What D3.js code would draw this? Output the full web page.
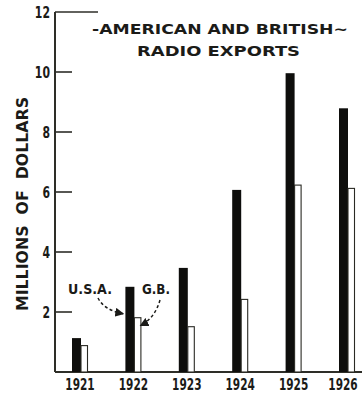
<!DOCTYPE html>
<html>
<head>
<meta charset="utf-8">
<script src="https://cdn.jsdelivr.net/npm/d3@7/dist/d3.min.js"></script>
<style>
  html, body { margin: 0; padding: 0; background: #fff; }
  svg { display: block; }
  text { font-family: "DejaVu Sans", "Liberation Sans", sans-serif; font-weight: bold; fill: #1b1b18; }
</style>
</head>
<body>
<svg id="chart" width="363" height="394"></svg>
<script>
// Radio exports, millions of dollars
const years = ["1921", "1922", "1923", "1924", "1925", "1926"];
const usaValues = [1.13, 2.84, 3.47, 6.07, 9.96, 8.79];
const gbValues = [0.88, 1.81, 1.51, 2.42, 6.23, 6.12];
const yTicks = [2, 4, 6, 8, 10, 12];
const titleLines = ["-AMERICAN AND BRITISH~", "RADIO EXPORTS"];
const yTitle = "MILLIONS  OF  DOLLARS";
const seriesNames = ["U.S.A.", "G.B."];

const svg = d3.select("#chart");
const ink = "#1b1b18";
const axisInk = "#2e2e28";

const y = d3.scaleLinear().domain([0, 12]).range([372, 12]);
const x = d3.scalePoint().domain(years).range([81, 348]);

const axisX = 55;
const usaWidth = 9;
const gbWidth = 6.5;

// vertical axis with inward ticks
svg.append("line")
  .attr("x1", axisX).attr("x2", axisX)
  .attr("y1", y(12)).attr("y2", y(0))
  .attr("stroke", axisInk).attr("stroke-width", 2);

svg.selectAll("line.tick").data(yTicks).join("line")
  .attr("class", "tick")
  .attr("x1", axisX)
  .attr("x2", d => d === 12 ? 98 : 72)
  .attr("y1", d => y(d)).attr("y2", d => y(d))
  .attr("stroke", axisInk).attr("stroke-width", 1.6);

// condensed tick numerals
svg.selectAll("text.ytick").data(yTicks).join("text")
  .attr("class", "ytick")
  .attr("transform", d => `translate(50,${y(d) + 6}) scale(0.68,1)`)
  .attr("text-anchor", "end")
  .attr("font-size", 16)
  .text(d => d);

// baseline
svg.append("line")
  .attr("x1", axisX).attr("x2", 362)
  .attr("y1", y(0)).attr("y2", y(0))
  .attr("stroke", axisInk).attr("stroke-width", 2);

// U.S.A. bars (solid)
svg.selectAll("rect.usa").data(years).join("rect")
  .attr("class", "usa")
  .attr("x", d => x(d) - usaWidth)
  .attr("width", usaWidth)
  .attr("y", (d, i) => y(usaValues[i]))
  .attr("height", (d, i) => y(0) - y(usaValues[i]))
  .attr("fill", "#0e0e0c");

// G.B. bars (outlined)
svg.selectAll("rect.gb").data(years).join("rect")
  .attr("class", "gb")
  .attr("x", d => x(d))
  .attr("width", gbWidth)
  .attr("y", (d, i) => y(gbValues[i]))
  .attr("height", (d, i) => y(0) - y(gbValues[i]))
  .attr("fill", "#fff")
  .attr("stroke", "#2a2a24").attr("stroke-width", 1.1);

// year labels, condensed and kept inside the right edge
svg.selectAll("text.year").data(years).join("text")
  .attr("class", "year")
  .attr("transform", d => `translate(${Math.min(x(d) - 1, 343)},390) scale(0.66,1)`)
  .attr("text-anchor", "middle")
  .attr("font-size", 16)
  .text(d => d);

// title
svg.append("text")
  .attr("x", 92).attr("y", 34)
  .attr("font-size", 14.5)
  .attr("textLength", 256)
  .attr("lengthAdjust", "spacingAndGlyphs")
  .text(titleLines[0]);
svg.append("text")
  .attr("x", 137).attr("y", 55.5)
  .attr("font-size", 14.5)
  .attr("textLength", 163)
  .attr("lengthAdjust", "spacingAndGlyphs")
  .text(titleLines[1]);

// y axis title
svg.append("text")
  .attr("transform", "translate(28,311) rotate(-90)")
  .attr("font-size", 15)
  .attr("textLength", 214)
  .attr("lengthAdjust", "spacingAndGlyphs")
  .style("white-space", "pre")
  .text(yTitle);

// series annotations with dashed pointers
svg.append("text")
  .attr("x", 68).attr("y", 293.5)
  .attr("font-size", 13.5)
  .attr("textLength", 44)
  .attr("lengthAdjust", "spacingAndGlyphs")
  .text(seriesNames[0]);
svg.append("text")
  .attr("x", 142).attr("y", 294)
  .attr("font-size", 13.5)
  .attr("textLength", 28)
  .attr("lengthAdjust", "spacingAndGlyphs")
  .text(seriesNames[1]);

const defs = svg.append("defs");
defs.append("marker")
  .attr("id", "head")
  .attr("viewBox", "0 0 10 10")
  .attr("refX", 9).attr("refY", 5)
  .attr("markerWidth", 6).attr("markerHeight", 6)
  .attr("orient", "auto")
  .append("path")
  .attr("d", "M0,0 L10,5 L0,10 Z")
  .attr("fill", ink);

const usaX = x(years[1]);
svg.append("path")
  .attr("d", `M${98},${298} Q${104},${310} ${usaX - usaWidth - 2},${y(usaValues[1]) + 27}`)
  .attr("fill", "none").attr("stroke", ink)
  .attr("stroke-width", 1.5).attr("stroke-dasharray", "3,2.5")
  .attr("marker-end", "url(#head)");
svg.append("path")
  .attr("d", `M${160},${300} Q${155},${318} ${usaX + 6},${y(gbValues[1]) + 8}`)
  .attr("fill", "none").attr("stroke", ink)
  .attr("stroke-width", 1.5).attr("stroke-dasharray", "3,2.5")
  .attr("marker-end", "url(#head)");
</script>
</body>
</html>
